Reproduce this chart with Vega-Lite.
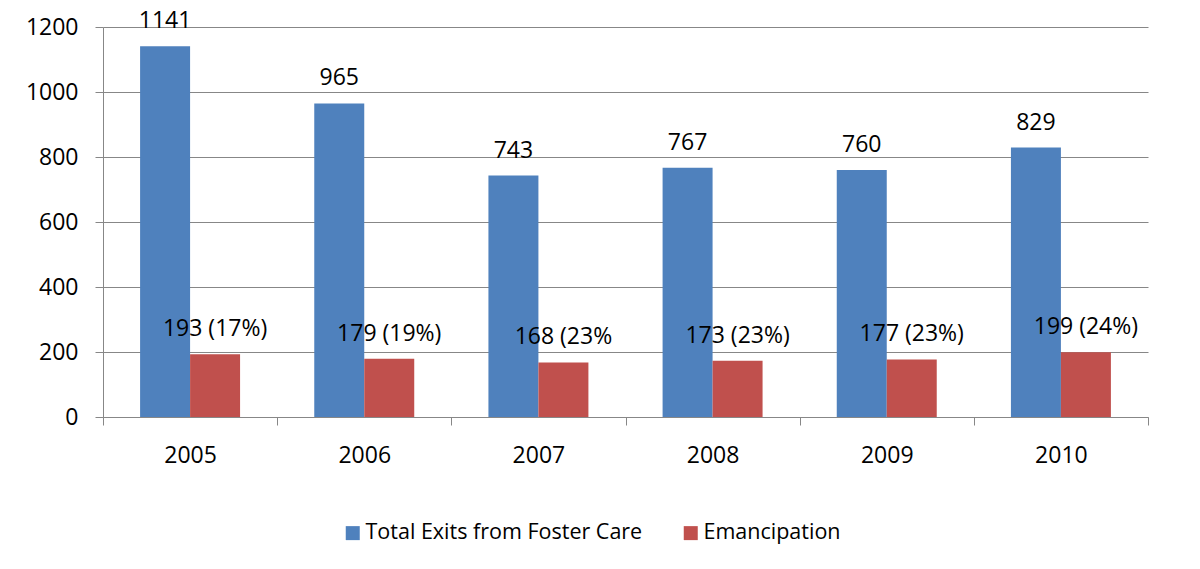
{
  "$schema": "https://vega.github.io/schema/vega-lite/v6.json",
  "width": 1045,
  "height": 390,
  "autosize": "none",
  "padding": {"left": 103, "top": 27, "right": 52, "bottom": 152},
  "background": "white",
  "config": {
    "view": {"stroke": null},
    "font": "Open Sans",
    "axis": {
      "labelFont": "Open Sans",
      "labelFontSize": 23,
      "labelColor": "#000000",
      "domainColor": "#878787",
      "tickColor": "#878787",
      "gridColor": "#878787",
      "tickSize": 8,
      "title": null
    }
  },
  "data": {
    "values": [
      {"year": "2005", "series": "Total Exits from Foster Care", "value": 1141, "label": "1141"},
      {"year": "2005", "series": "Emancipation", "value": 193, "label": "193 (17%)"},
      {"year": "2006", "series": "Total Exits from Foster Care", "value": 965, "label": "965"},
      {"year": "2006", "series": "Emancipation", "value": 179, "label": "179 (19%)"},
      {"year": "2007", "series": "Total Exits from Foster Care", "value": 743, "label": "743"},
      {"year": "2007", "series": "Emancipation", "value": 168, "label": "168 (23%"},
      {"year": "2008", "series": "Total Exits from Foster Care", "value": 767, "label": "767"},
      {"year": "2008", "series": "Emancipation", "value": 173, "label": "173 (23%)"},
      {"year": "2009", "series": "Total Exits from Foster Care", "value": 760, "label": "760"},
      {"year": "2009", "series": "Emancipation", "value": 177, "label": "177 (23%)"},
      {"year": "2010", "series": "Total Exits from Foster Care", "value": 829, "label": "829"},
      {"year": "2010", "series": "Emancipation", "value": 199, "label": "199 (24%)"}
    ]
  },
  "encoding": {
    "x": {
      "field": "year",
      "type": "nominal",
      "scale": {"paddingInner": 0, "paddingOuter": 0},
      "axis": {"labelAngle": 0, "tickBand": "extent", "labelPadding": 19, "grid": false}
    },
    "xOffset": {
      "field": "series",
      "type": "nominal",
      "sort": ["Total Exits from Foster Care", "Emancipation"],
      "scale": {"paddingInner": 0, "paddingOuter": 0.742}
    },
    "y": {
      "field": "value",
      "type": "quantitative",
      "scale": {"domain": [0, 1200], "nice": false},
      "axis": {"values": [0, 200, 400, 600, 800, 1000, 1200], "format": "d", "labelPadding": 17, "grid": true}
    }
  },
  "layer": [
    {
      "mark": {"type": "bar"},
      "encoding": {
        "color": {
          "field": "series",
          "type": "nominal",
          "scale": {"domain": ["Total Exits from Foster Care", "Emancipation"], "range": ["#4F81BD", "#C0504D"]},
          "legend": {
            "title": null,
            "orient": "none",
            "direction": "horizontal",
            "legendX": 239,
            "legendY": 495,
            "padding": 0,
            "symbolType": "square",
            "symbolSize": 196,
            "symbolStrokeWidth": 0,
            "symbolOpacity": 1,
            "labelFontSize": 21.5,
            "labelFont": "Open Sans",
            "labelColor": "#000000",
            "labelOffset": 2,
            "labelLimit": 600,
            "columnPadding": 37
          }
        }
      }
    },
    {
      "mark": {"type": "text", "baseline": "alphabetic", "dy": -18, "fontSize": 23, "color": "#000000", "font": "Open Sans"},
      "encoding": {"text": {"field": "label"}}
    }
  ]
}
